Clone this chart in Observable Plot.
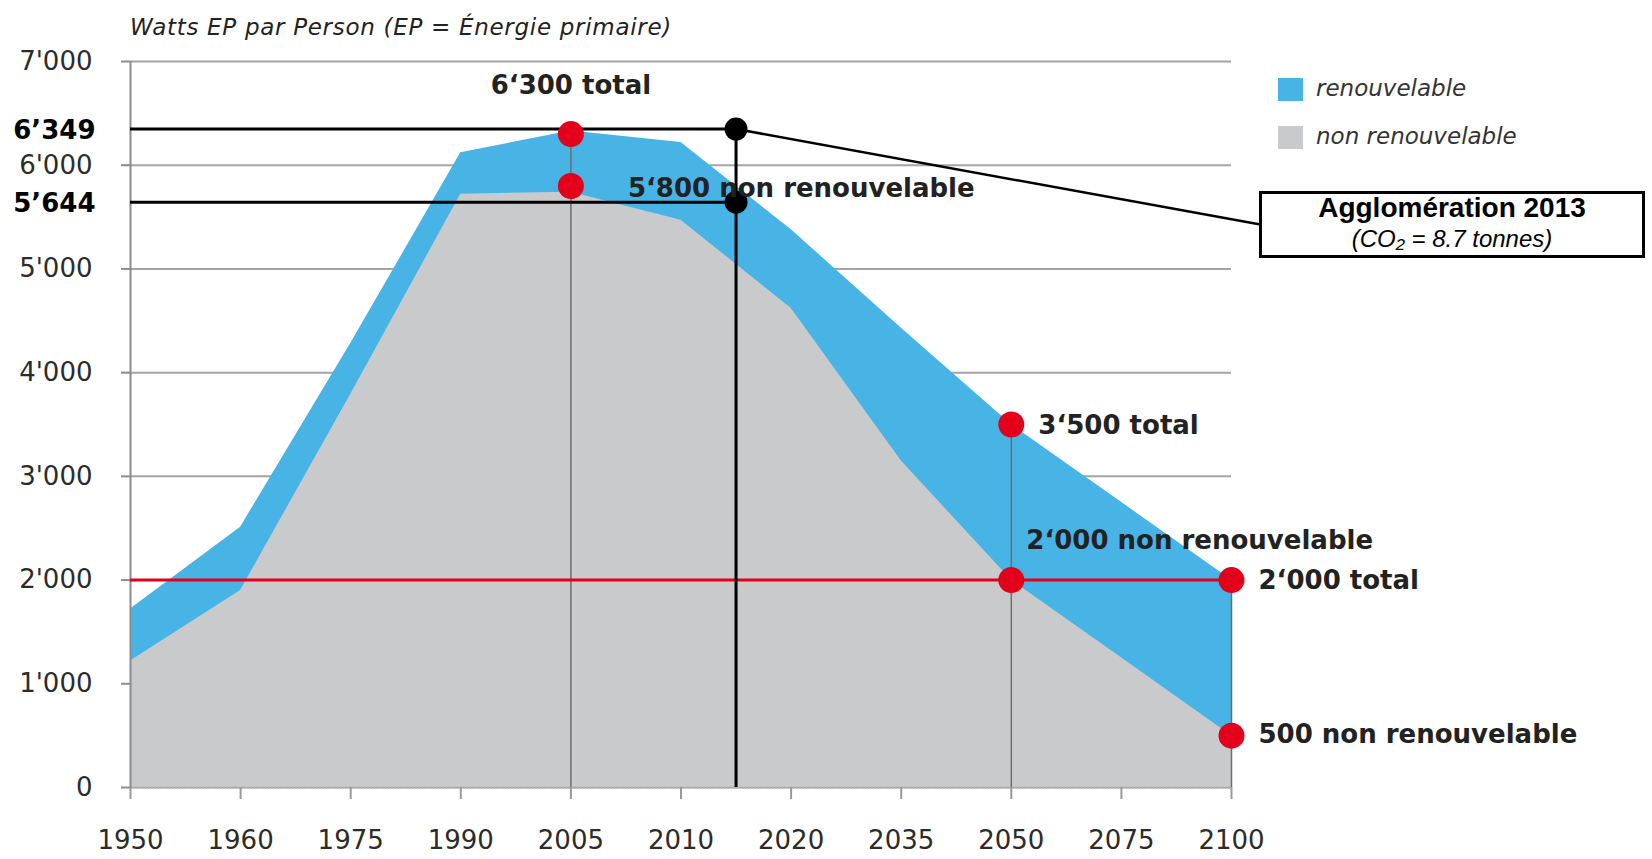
<!DOCTYPE html>
<html>
<head>
<meta charset="utf-8">
<script src="https://cdn.jsdelivr.net/npm/d3@7"></script>
<script src="https://cdn.jsdelivr.net/npm/@observablehq/plot@0.6"></script>
<style>
  body { margin: 0; background: #fff; }
  #wrap { position: relative; width: 1652px; height: 859px; overflow: hidden; background: #fff; }
  #wrap svg { position: absolute; left: 0; top: 0; }
  .ov { position: absolute; white-space: nowrap; }
  .title { left: 130px; top: 16px; font: oblique 23px/23px "DejaVu Sans", sans-serif; letter-spacing: 0.7px; color: #222; }
  .lg-sw { position: absolute; width: 25px; height: 23px; }
  .lg-tx { left: 1316px; font: oblique 23px/23px "DejaVu Sans", sans-serif; color: #333; }
  .box { left: 1259px; top: 191px; width: 386px; height: 67px; box-sizing: border-box; border: 3px solid #000; background: #fff; }
  .box1 { left: 1259px; width: 386px; text-align: center; top: 194px; font: bold 28px/28px "Liberation Sans", Arial, sans-serif; color: #000; }
  .box2 { left: 1259px; width: 386px; text-align: center; top: 227px; font: italic 24px/24px "Liberation Sans", Arial, sans-serif; color: #000; }
</style>
</head>
<body>
<div id="wrap"></div>
<script>
// ---- data ----
const years = ["1950", "1960", "1975", "1990", "2005", "2010", "2020", "2035", "2050", "2075", "2100"];
const total = [1720, 2510, 4280, 6120, 6330, 6220, 5380, 4430, 3500, 2750, 2000];          // top of blue band
const nonRenewable = [1220, 1900, 3790, 5720, 5740, 5470, 4620, 3150, 2000, 1250, 500];   // top of grey band
const yTicks = [0, 1000, 2000, 3000, 4000, 5000, 6000, 7000];

const keyYears = ["2005", "2005", "2050", "2050", "2100", "2100"];
const keyValues = [6300, 5800, 3500, 2000, 2000, 500];
const keyLabels = ["6‘300 total", "5‘800 non renouvelable", "3‘500 total", "2‘000 non renouvelable", "2‘000 total", "500 non renouvelable"];

const dropYears = ["2005", "2050", "2100"];
const dropTops = [6300, 3500, 2000];

const targetValue = [2000];

const aggloValues = [6349, 5644];
const aggloLabels = ["6’349", "5’644"];
const aggloSlot = 5.5;                       // drawn halfway between the 2010 and 2020 columns
const calloutEnd = {slot: 10.25, value: 5430}; // where the callout line meets the box
const legendNames = ["renouvelable", "non renouvelable"];
const titleText = "Watts EP par Person (EP = Énergie primaire)";
const boxTitle = "Agglomération 2013";
const boxSub = "(CO₂ = 8.7 tonnes)";

// ---- styles ----
const BLUE = "#48b4e6", GREY = "#c9cacc", RED = "#e2001a";

const fmt = d3.formatLocale({decimal: ".", thousands: "'", grouping: [3], currency: ["", ""]}).format(",");
const slot = y => years.indexOf(y);
const data = years.map((year, i) => ({i, year, total: total[i], nonRenewable: nonRenewable[i]}));
const keyPoints = keyYears.map((y, k) => ({x: slot(y), value: keyValues[k], label: keyLabels[k]}));
const drops = dropYears.map((y, k) => ({x: slot(y), top: dropTops[k]}));
const agglo = aggloValues.map((v, k) => ({value: v, label: aggloLabels[k]}));

const placements = [
  {dx: 0, dy: -48, textAnchor: "middle"},
  {dx: 57, dy: 3, textAnchor: "start"},
  {dx: 27, dy: 1, textAnchor: "start"},
  {dx: 15, dy: -39, textAnchor: "start"},
  {dx: 27, dy: 1, textAnchor: "start"},
  {dx: 27, dy: -1, textAnchor: "start"}
];

const labelFont = {fontFamily: "DejaVu Sans", fontWeight: "bold", fontSize: 26, fill: "#222"};

const plot = Plot.plot({
  width: 1652,
  height: 859,
  marginLeft: 130,
  marginRight: 421,
  marginTop: 61,
  marginBottom: 72,
  style: {fontFamily: "DejaVu Sans", background: "transparent", overflow: "visible"},
  x: {type: "linear", domain: [0, years.length - 1]},
  y: {domain: [0, 7000]},
  marks: [
    Plot.ruleY(yTicks, {stroke: "#a4a4a4", strokeWidth: 2}),
    Plot.areaY(data, {x: "i", y1: 0, y2: "total", fill: BLUE}),
    Plot.areaY(data, {x: "i", y1: 0, y2: "nonRenewable", fill: GREY}),
    Plot.ruleY([0], {stroke: "#b0b0b0", strokeWidth: 2, strokeDasharray: "2,1"}),
    Plot.ruleX([0], {stroke: "#8c8c8c", strokeWidth: 2}),
    Plot.axisY({
      ticks: yTicks, tickFormat: fmt, tickSize: 9, tickPadding: 29,
      fontSize: 26, fontFamily: "DejaVu Sans", fill: "#2b2b2b", stroke: "#8c8c8c", strokeWidth: 2
    }),
    Plot.axisX({
      ticks: d3.range(years.length), tickFormat: i => years[i], tickSize: 12, tickPadding: 31,
      fontSize: 26, fontFamily: "DejaVu Sans", fill: "#2b2b2b", stroke: "#9a9a9a", strokeWidth: 2
    }),
    Plot.ruleX(drops, {x: "x", y1: 0, y2: "top", stroke: "#6e6e6e", strokeWidth: 1.5}),
    Plot.ruleY(targetValue, {x1: 0, x2: years.length - 1, stroke: RED, strokeWidth: 3}),
    // Agglomération 2013 markers
    Plot.ruleY(agglo, {y: "value", x1: 0, x2: aggloSlot, stroke: "#000", strokeWidth: 3}),
    Plot.ruleX([aggloSlot], {y1: 0, y2: aggloValues[0], stroke: "#000", strokeWidth: 3}),
    Plot.link([0], {x1: () => aggloSlot, y1: () => aggloValues[0], x2: () => calloutEnd.slot, y2: () => calloutEnd.value, stroke: "#000", strokeWidth: 2.5}),
    Plot.dot(agglo, {x: () => aggloSlot, y: "value", r: 11.5, fill: "#000"}),
    Plot.text(agglo, {y: "value", text: "label", frameAnchor: "left", dx: -35, dy: 2, textAnchor: "end",
      fontFamily: "DejaVu Sans", fontWeight: "bold", fontSize: 26, fill: "#000"}),
    // key points
    Plot.dot(keyPoints, {x: "x", y: "value", r: 13, fill: RED}),
    ...keyPoints.map((p, k) => Plot.text([p], {x: "x", y: "value", text: "label", ...placements[k], ...labelFont}))
  ]
});

const wrap = document.getElementById("wrap");
wrap.appendChild(plot);

function add(cls, text, style) {
  const d = document.createElement("div");
  d.className = cls;
  if (text != null) d.textContent = text;
  if (style) Object.assign(d.style, style);
  wrap.appendChild(d);
  return d;
}
add("ov title", titleText);
add("lg-sw", null, {left: "1278px", top: "78px", background: BLUE});
add("lg-sw", null, {left: "1278px", top: "126px", background: GREY});
add("ov lg-tx", legendNames[0], {top: "77px"});
add("ov lg-tx", legendNames[1], {top: "125px"});
add("ov box", null);
add("ov box1", boxTitle);
add("ov box2", boxSub);
</script>
</body>
</html>
